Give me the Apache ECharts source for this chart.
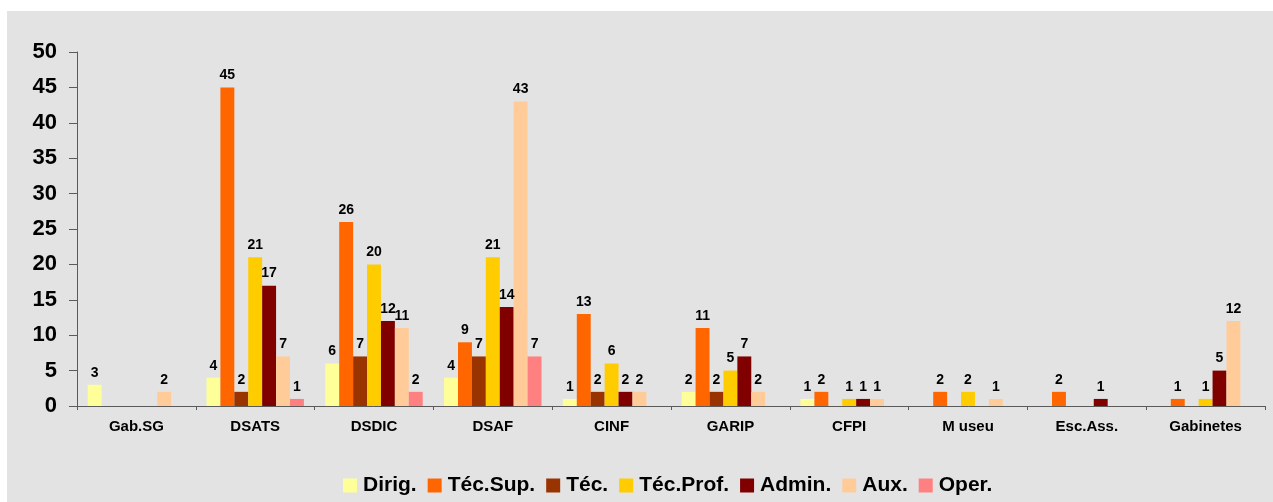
<!DOCTYPE html>
<html>
<head>
<meta charset="utf-8">
<script src="https://cdn.jsdelivr.net/npm/echarts@6/dist/echarts.min.js"></script>
<style>
  html, body { margin: 0; padding: 0; background: #ffffff; }
  #chart { width: 1273px; height: 502px; }
</style>
</head>
<body>
<div id="chart"></div>
<script>
// Staff by unit and career group
const units = ['Gab.SG', 'DSATS', 'DSDIC', 'DSAF', 'CINF', 'GARIP', 'CFPI', 'M useu', 'Esc.Ass.', 'Gabinetes'];
const groupNames = ['Dirig.', 'Téc.Sup.', 'Téc.', 'Téc.Prof.', 'Admin.', 'Aux.', 'Oper.'];

const dirig    = [3, 4, 6, 4, 1, 2, 1, null, null, null];
const tecSup   = [null, 45, 26, 9, 13, 11, 2, 2, 2, 1];
const tec      = [null, 2, 7, 7, 2, 2, null, null, null, null];
const tecProf  = [null, 21, 20, 21, 6, 5, 1, 2, null, 1];
const admin    = [null, 17, 12, 14, 2, 7, 1, null, 1, 5];
const aux      = [2, 7, 11, 43, 2, 2, 1, 1, null, 12];
const oper     = [null, 1, 2, 7, null, null, null, null, null, null];

const yTicks = { min: 0, max: 50, interval: 5 };

const seriesData = [dirig, tecSup, tec, tecProf, admin, aux, oper];
const colors = ['#FFFF99', '#FF6600', '#993300', '#FFCC00', '#800000', '#FFCC99', '#FF8080'];

const FONT = '"Liberation Sans", Arial, sans-serif';

const chart = echarts.init(document.getElementById('chart'), null, { renderer: 'canvas' });

chart.setOption({
  animation: false,
  backgroundColor: '#ffffff',
  textStyle: { fontFamily: FONT },
  graphic: [{
    type: 'rect',
    z: -10,
    silent: true,
    shape: { x: 7, y: 11, width: 1266, height: 491 },
    style: { fill: '#E3E3E3' }
  }],
  grid: { left: 77, right: 8, top: 52, bottom: 96, containLabel: false },
  legend: {
    left: 343,
    top: 475,
    padding: 0,
    itemWidth: 14,
    itemHeight: 14,
    itemGap: 11,
    icon: 'rect',
    textStyle: { fontFamily: FONT, fontWeight: 'bold', fontSize: 21, color: '#000', padding: [0, 0, 0, 1] },
    data: groupNames
  },
  xAxis: {
    type: 'category',
    data: units,
    axisLine: { lineStyle: { color: '#5a5a5a', width: 1 } },
    axisTick: { show: true, length: 4, alignWithLabel: false, lineStyle: { color: '#5a5a5a' } },
    axisLabel: { fontFamily: FONT, fontWeight: 'bold', fontSize: 15, color: '#000', margin: 13, interval: 0 },
    splitLine: { show: false }
  },
  yAxis: {
    type: 'value',
    min: yTicks.min,
    max: yTicks.max,
    interval: yTicks.interval,
    axisLine: { show: true, lineStyle: { color: '#5a5a5a', width: 1 } },
    axisTick: { show: true, length: 8, lineStyle: { color: '#5a5a5a' } },
    axisLabel: { fontFamily: FONT, fontWeight: 'bold', fontSize: 22, color: '#000', margin: 20 },
    splitLine: { show: false }
  },
  series: groupNames.map((name, i) => ({
    name: name,
    type: 'bar',
    data: seriesData[i],
    barGap: '0%',
    barCategoryGap: '18%',
    itemStyle: { color: colors[i] },
    label: {
      show: true,
      position: 'top',
      distance: 5,
      fontFamily: FONT,
      fontWeight: 'bold',
      fontSize: 14,
      color: '#000'
    }
  }))
});
</script>
</body>
</html>
